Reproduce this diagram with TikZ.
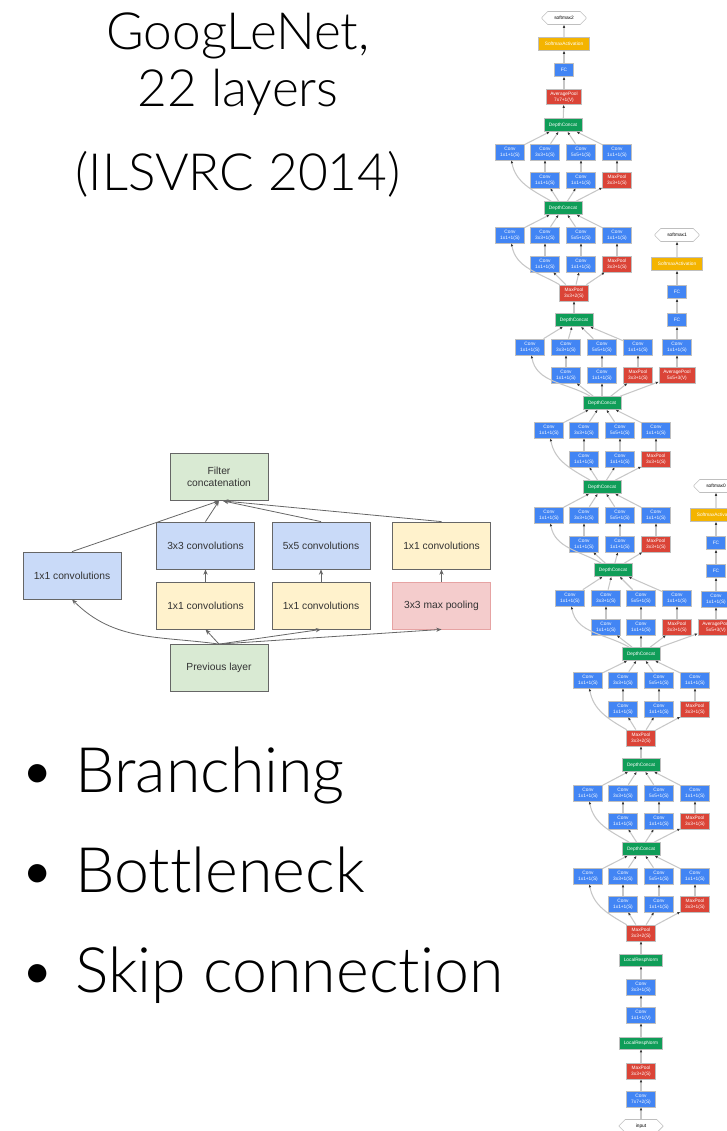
\documentclass[tikz,border=0pt]{standalone}
\usepackage{fontspec}
\setmainfont{Liberation Sans}
\newfontfamily\slidefont[Ligatures=NoCommon]{Lato Light}
\usetikzlibrary{arrows.meta}
\usetikzlibrary{shapes.misc}

\definecolor{convBlue}{HTML}{4285F4}
\definecolor{poolRed}{HTML}{DB4437}
\definecolor{concatGreen}{HTML}{0F9D58}
\definecolor{softYellow}{HTML}{F4B400}
\definecolor{boxGreen}{HTML}{D9EAD3}
\definecolor{boxBlue}{HTML}{C9DAF8}
\definecolor{boxYellow}{HTML}{FFF2CC}
\definecolor{boxPink}{HTML}{F4CCCC}
\definecolor{pinkEdge}{HTML}{E6A3A3}

\tikzset{
	% network column
	layer/.style={draw=black!25, line width=0.5pt, text=white, align=center,
		font=\fontsize{3.6}{4.6}\selectfont, inner sep=0pt,
		minimum width=21.75pt, minimum height=12pt},
	conv/.style={layer, fill=convBlue},
	pool/.style={layer, fill=poolRed},
	concat/.style={layer, fill=concatGreen, minimum width=28.5pt, minimum height=9.75pt},
	fc/.style={layer, fill=convBlue, minimum width=14.25pt, minimum height=9.75pt},
	act/.style={layer, fill=softYellow, minimum width=38pt, minimum height=9.75pt},
	norm/.style={layer, fill=concatGreen, minimum width=32pt, minimum height=9pt},
	soft/.style={layer, chamfered rectangle, chamfered rectangle xsep=3pt,
		chamfered rectangle ysep=3pt, fill=white, text=black,
		minimum width=33pt, minimum height=9.75pt},
	flow/.style={draw=black!22, line width=0.8pt,
		-{Latex[length=2.2pt,width=2pt,color=black!80]}},
	% inception block
	block/.style={draw=black!60, line width=0.6pt, text=black!80, align=center,
		font=\fontsize{7.7}{9}\selectfont, inner sep=0pt,
		minimum width=73.5pt, minimum height=35.25pt},
	link/.style={draw=black!60, line width=0.6pt, -{Stealth[length=4pt,width=3.2pt]}},
	% slide text
	title/.style={font=\slidefont\fontsize{38.5}{46}\selectfont, anchor=base, inner sep=0pt},
	item/.style={font=\slidefont\fontsize{47}{56}\selectfont, anchor=base west, inner sep=0pt},
	dot/.style={font=\slidefont\fontsize{47}{56}\selectfont, anchor=base, inner sep=0pt}
}

\begin{document}
\begin{tikzpicture}[x=0.75pt, y=-0.75pt]

	\useasboundingbox (0,0) rectangle (726,1131);

	% title and bullet list
	\node[title] (titleName) at (238,50) {GoogLeNet,};
	\node[title] (titleDepth) at (238,107) {22 layers};
	\node[title] (titleYear) at (238,190) {(ILSVRC 2014)};

	\node[dot] (dotBranch) at (38,792) {\textbullet};
	\node[item] (itemBranch) at (75,792) {Branching};
	\node[dot] (dotBottle) at (38,892) {\textbullet};
	\node[item] (itemBottle) at (75,892) {Bottleneck};
	\node[dot] (dotSkip) at (38,992) {\textbullet};
	\node[item] (itemSkip) at (75,992) {Skip connection};

	% inception module
	\node[block, fill=boxGreen] (filterConcat) at (219,477) {Filter\\concatenation};
	\node[block, fill=boxBlue] (convLeft) at (72,575.5) {1x1 convolutions};
	\node[block, fill=boxBlue] (convThree) at (205.5,545.5) {3x3 convolutions};
	\node[block, fill=boxBlue] (convFive) at (321,545.5) {5x5 convolutions};
	\node[block, fill=boxYellow] (convProj) at (441.5,545.5) {1x1 convolutions};
	\node[block, fill=boxYellow] (reduceThree) at (205.5,605.5) {1x1 convolutions};
	\node[block, fill=boxYellow] (reduceFive) at (321,605.5) {1x1 convolutions};
	\node[block, fill=boxPink, draw=pinkEdge] (maxPooling) at (441.5,605.5) {3x3 max pooling};
	\node[block, fill=boxGreen] (previousLayer) at (219,668) {Previous layer};

	\draw[link] (previousLayer.north) to[out=172, in=-45] (convLeft.south);
	\draw[link] (previousLayer.north) -- (reduceThree.south);
	\draw[link] (previousLayer.north) -- (reduceFive.south);
	\draw[link] (previousLayer.north) -- (maxPooling.south);
	\draw[link] (reduceThree) -- (convThree);
	\draw[link] (reduceFive) -- (convFive);
	\draw[link] (maxPooling) -- (convProj);
	\draw[link] (convLeft.north) -- (filterConcat.south);
	\draw[link] (convThree.north) -- (filterConcat.south);
	\draw[link] (convFive.north) -- ([xshift=3pt]filterConcat.south);
	\draw[link] (convProj.north) -- ([xshift=3pt]filterConcat.south);

	% network spine
	\node[concat] (dc9) at (563,125) {DepthConcat};
	\node[concat] (dc8) at (563,208) {DepthConcat};
	\node[pool] (mp4) at (574,293) {MaxPool\\3x3+2(S)};
	\node[concat] (dc7) at (574,320) {DepthConcat};
	\node[concat] (dc6) at (602,403) {DepthConcat};
	\node[concat] (dc5) at (602,487) {DepthConcat};
	\node[concat] (dc4) at (613,570) {DepthConcat};
	\node[concat] (dc3) at (641,654) {DepthConcat};
	\node[pool] (mp3) at (641,738) {MaxPool\\3x3+2(S)};
	\node[concat] (dc2) at (641,765) {DepthConcat};
	\node[concat] (dc1) at (641,849) {DepthConcat};
	\node[pool] (mp2) at (641,933) {MaxPool\\3x3+2(S)};

	% inception layers
	\foreach \m/\concatNode/\inputNode/\ya/\yb/\xa/\xb/\xc/\xd in {
		9/dc9/dc8/152/180/510/545/581/617,
		8/dc8/mp4/235/264/510/545/581/617,
		7/dc7/dc6/347/375/530/566/602/638,
		6/dc6/dc5/430/459/549/584/620/656,
		5/dc5/dc4/515/544/549/584/620/656,
		4/dc4/dc3/598/627/570/606/641/677,
		3/dc3/mp3/680/709/588/623/659/695,
		2/dc2/dc1/793/821/588/623/659/695,
		1/dc1/mp2/876/904/588/623/659/695}{
		\node[conv] (one\m) at (\xa,\ya) {Conv\\1x1+1(S)};
		\node[conv] (three\m) at (\xb,\ya) {Conv\\3x3+1(S)};
		\node[conv] (five\m) at (\xc,\ya) {Conv\\5x5+1(S)};
		\node[conv] (proj\m) at (\xd,\ya) {Conv\\1x1+1(S)};
		\node[conv] (redthree\m) at (\xb,\yb) {Conv\\1x1+1(S)};
		\node[conv] (redfive\m) at (\xc,\yb) {Conv\\1x1+1(S)};
		\node[pool] (pool\m) at (\xd,\yb) {MaxPool\\3x3+1(S)};
		\draw[flow] (\inputNode) to[out=150, in=-80] (one\m);
		\draw[flow] (\inputNode) -- (redthree\m);
		\draw[flow] (\inputNode) -- (redfive\m);
		\draw[flow] (\inputNode) -- (pool\m);
		\draw[flow] (redthree\m) -- (three\m);
		\draw[flow] (redfive\m) -- (five\m);
		\draw[flow] (pool\m) -- (proj\m);
		\foreach \branch in {one,three,five,proj}
			\draw[flow] (\branch\m) -- (\concatNode);
	}

	% stem
	\node[soft] (inputData) at (641,1126) {input};
	\node[conv] (stemConvA) at (641,1099) {Conv\\7x7+2(S)};
	\node[pool] (stemPool) at (641,1071) {MaxPool\\3x3+2(S)};
	\node[norm] (stemNormA) at (641,1043) {LocalRespNorm};
	\node[conv] (stemConvB) at (641,1015) {Conv\\1x1+1(V)};
	\node[conv] (stemConvC) at (641,987) {Conv\\3x3+1(S)};
	\node[norm] (stemNormB) at (641,960) {LocalRespNorm};

	% classifier heads
	\node[pool, minimum width=26pt, minimum height=11.25pt] (avgTwo) at (564,97) {AveragePool\\7x7+1(V)};
	\node[fc] (fcTwo) at (564,70) {FC};
	\node[act] (actTwo) at (564,44) {SoftmaxActivation};
	\node[soft] (softmaxTwo) at (564,18) {softmax2};

	\node[pool, minimum width=27pt] (avgOne) at (677,375) {AveragePool\\5x5+3(V)};
	\node[conv] (convOne) at (677,347) {Conv\\1x1+1(S)};
	\node[fc] (fcOneA) at (677,320) {FC};
	\node[fc] (fcOneB) at (677,292) {FC};
	\node[act] (actOne) at (677,264) {SoftmaxActivation};
	\node[soft] (softmaxOne) at (677,235) {softmax1};

	\node[pool, minimum width=27pt] (avgZero) at (716,627) {AveragePool\\5x5+3(V)};
	\node[conv] (convZero) at (716,599) {Conv\\1x1+1(S)};
	\node[fc] (fcZeroA) at (716,571) {FC};
	\node[fc] (fcZeroB) at (716,543) {FC};
	\node[act] (actZero) at (716,515) {SoftmaxActivation};
	\node[soft] (softmaxZero) at (716,486) {softmax0};

	\foreach \lo/\hi in {inputData/stemConvA, stemConvA/stemPool, stemPool/stemNormA,
		stemNormA/stemConvB, stemConvB/stemConvC, stemConvC/stemNormB, stemNormB/mp2,
		dc2/mp3, dc7/mp4,
		dc9/avgTwo, avgTwo/fcTwo, fcTwo/actTwo, actTwo/softmaxTwo,
		dc6/avgOne, avgOne/convOne, convOne/fcOneA, fcOneA/fcOneB, fcOneB/actOne, actOne/softmaxOne,
		dc3/avgZero, avgZero/convZero, convZero/fcZeroA, fcZeroA/fcZeroB, fcZeroB/actZero, actZero/softmaxZero}
		\draw[flow] (\lo) -- (\hi);

\end{tikzpicture}
\end{document}
